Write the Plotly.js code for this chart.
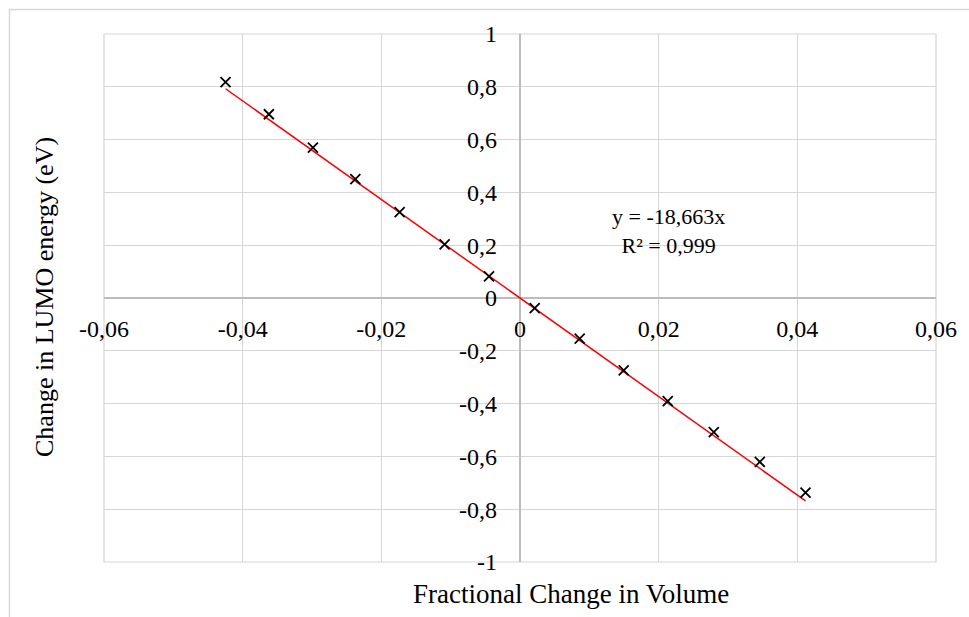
<!DOCTYPE html>
<html>
<head>
<meta charset="utf-8">
<script src="https://cdn.plot.ly/plotly-3.0.1.min.js"></script>
<style>html,body{margin:0;padding:0;background:#fff;}#chart{width:969px;height:617px;}</style>
</head>
<body>
<div id="chart"></div>
<script>
// Data
const volumeChange = [-0.04247, -0.03622, -0.02987, -0.02375, -0.01736, -0.01087, -0.00447,
                      0.00212, 0.00861, 0.01496, 0.02131, 0.02795, 0.03459, 0.04118];
const lumoChange   = [0.818, 0.696, 0.570, 0.450, 0.325, 0.203, 0.082,
                      -0.038, -0.154, -0.274, -0.391, -0.508, -0.621, -0.737];
const trendSlope = -18.663;
const equationText = "y = -18,663x";
const r2Text = "R² = 0,999";
const xTickVals = [-0.06, -0.04, -0.02, 0, 0.02, 0.04, 0.06];
const xTickText = ["-0,06", "-0,04", "-0,02", "0", "0,02", "0,04", "0,06"];
const yTickVals = [-1, -0.8, -0.6, -0.4, -0.2, 0, 0.2, 0.4, 0.6, 0.8, 1];
const yTickText = ["-1", "-0,8", "-0,6", "-0,4", "-0,2", "0", "0,2", "0,4", "0,6", "0,8", "1"];
const xTitle = "Fractional Change in Volume";
const yTitle = "Change in LUMO energy (eV)";

const xMin = Math.min(...volumeChange), xMax = Math.max(...volumeChange);
const trendX = [xMin, xMax];
const trendY = trendX.map(v => trendSlope * v);

const FONT = "Liberation Serif, Times New Roman, serif";
const GRID = "#d6d6d6";

const traces = [
  {
    x: trendX, y: trendY, type: "scatter", mode: "lines",
    line: {color: "#ff0000", width: 1.5}, hoverinfo: "skip", showlegend: false
  },
  {
    x: volumeChange, y: lumoChange, type: "scatter", mode: "markers",
    marker: {symbol: "x-thin", size: 10, color: "#000", line: {color: "#000", width: 1.8}},
    showlegend: false
  }
];

const layout = {
  width: 969, height: 617,
  margin: {l: 104, r: 33, t: 34, b: 55, pad: 0},
  paper_bgcolor: "#ffffff", plot_bgcolor: "#ffffff",
  font: {family: FONT, color: "#000", size: 23},
  showlegend: false,
  xaxis: {
    range: [-0.06, 0.06], tickvals: xTickVals, ticktext: xTickText,
    anchor: "free", position: 0.5, showline: false, ticks: "",
    ticklabelstandoff: 14,
    showgrid: true, gridcolor: GRID, gridwidth: 1,
    zeroline: true, zerolinecolor: "#bcbcbc", zerolinewidth: 1.2,
    tickfont: {family: FONT, size: 24, color: "#000"}
  },
  yaxis: {
    range: [-1, 1], tickvals: yTickVals, ticktext: yTickText,
    anchor: "free", position: 0.5, showline: false, ticks: "",
    ticklabelstandoff: 23,
    showgrid: true, gridcolor: GRID, gridwidth: 1,
    zeroline: true, zerolinecolor: "#bcbcbc", zerolinewidth: 1.2,
    tickfont: {family: FONT, size: 24, color: "#000"}
  },
  annotations: [
    {text: xTitle, xref: "paper", yref: "paper", x: (571 - 104) / 832, y: (562 - 594) / 528,
     xanchor: "center", yanchor: "middle", showarrow: false, font: {family: FONT, size: 27, color: "#000"}},
    {text: yTitle, xref: "paper", yref: "paper", x: (44 - 104) / 832, y: (562 - 297) / 528,
     xanchor: "center", yanchor: "middle", textangle: -90, showarrow: false, font: {family: FONT, size: 26, color: "#000"}},
    {text: equationText + "<br>" + r2Text, xref: "paper", yref: "paper", x: (668 - 104) / 832, y: (562 - 231) / 528,
     xanchor: "center", yanchor: "middle", align: "center", showarrow: false, font: {family: FONT, size: 22, color: "#000"}}
  ],
  shapes: [
    {type: "rect", xref: "paper", yref: "paper", x0: 0, x1: 1, y0: 0, y1: 1,
     line: {color: GRID, width: 1.2}, fillcolor: "rgba(0,0,0,0)", layer: "below"},
    {type: "rect", xref: "paper", yref: "paper",
     x0: (9.5 - 104) / 832, x1: 1.06, y0: -0.15, y1: (562 - 9.5) / 528,
     line: {color: "#d9d9d9", width: 1.5}, fillcolor: "rgba(0,0,0,0)", layer: "below"}
  ]
};

Plotly.newPlot("chart", traces, layout, {displayModeBar: false, staticPlot: true});
</script>
</body>
</html>
